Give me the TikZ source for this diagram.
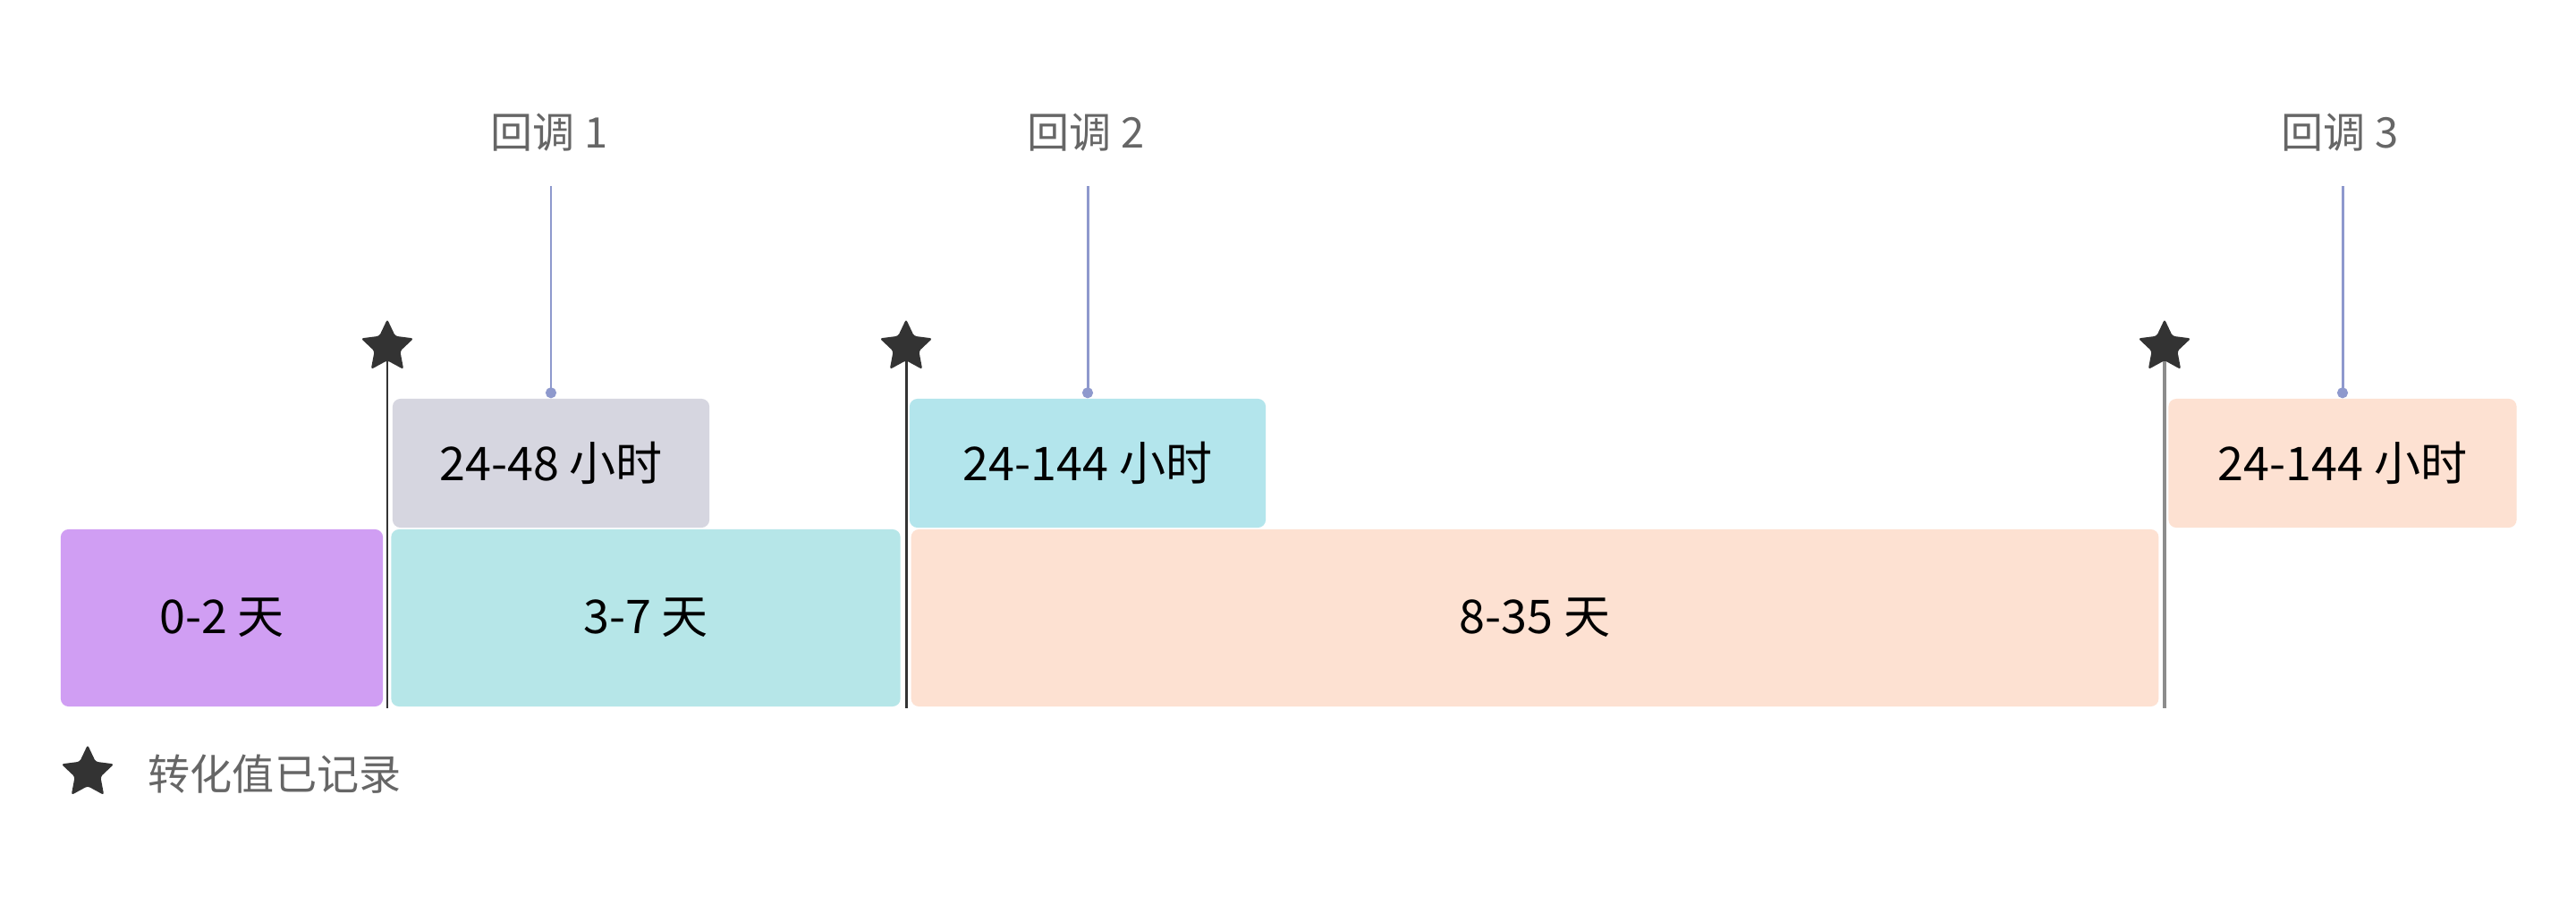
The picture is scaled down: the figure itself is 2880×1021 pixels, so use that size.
\documentclass[tikz,border=0pt]{standalone}
\usepackage{fontspec}
\newfontfamily\cjk{Noto Sans CJK SC}
\usetikzlibrary{shapes.geometric,arrows.meta}
\definecolor{dayviolet}{HTML}{D09EF3}
\definecolor{dayteal}{HTML}{B6E6E8}
\definecolor{daypeach}{HTML}{FDE1D2}
\definecolor{hourgray}{HTML}{D6D6E0}
\definecolor{hourteal}{HTML}{B3E5EC}
\definecolor{cbblue}{HTML}{8E99CD}
\definecolor{stardark}{HTML}{333333}
\definecolor{labelgray}{HTML}{666666}
\begin{document}
\begin{tikzpicture}[x=0.01cm, y=-0.01cm,
    every node/.style={font=\cjk},
    daybox/.style={rectangle, rounded corners=2.5pt, inner sep=0pt,
      minimum height=1.98cm, text=black, font=\cjk\fontsize{14.8}{16}\selectfont},
    hourbox/.style={daybox, minimum height=1.44cm},
    cblabel/.style={text=labelgray, font=\cjk\fontsize{13.4}{15}\selectfont},
    cbline/.style={draw=cbblue, line width=0.85pt, -{Circle[length=3.4pt]}},
    conv/.style={star, star points=5, star point ratio=2.05, fill=stardark,
      rounded corners=0.8pt, minimum size=0.62cm, inner sep=0pt},
    convline/.style={draw=stardark, line width=0.85pt},
    convlinegray/.style={draw=gray!90, line width=1.4pt}]
  \fill[white] (0,0) rectangle (2880,1021);
  \useasboundingbox (0,0) rectangle (2880,1021);
  % day ranges
  \node[daybox, fill=dayviolet, minimum width=3.6cm]  (d02)  at (248,691)  {0-2 天};
  \node[daybox, fill=dayteal, minimum width=5.69cm]   (d37)  at (722,691)  {3-7 天};
  \node[daybox, fill=daypeach, minimum width=13.94cm] (d835) at (1716,691) {8-35 天};
  % hour windows
  \node[hourbox, fill=hourgray, minimum width=3.54cm]  (h1) at (616,518)  {24-48 小时};
  \node[hourbox, fill=hourteal, minimum width=3.98cm]  (h2) at (1216,518) {24-144 小时};
  \node[hourbox, fill=daypeach, minimum width=3.89cm]  (h3) at (2619,518) {24-144 小时};
  % callbacks
  \draw
    (614,148) node[cblabel] (l1) {回调 1}
    (1214,148) node[cblabel] (l2) {回调 2}
    (2616,148) node[cblabel] (l3) {回调 3};
  \coordinate (t1) at (616,208);
  \coordinate (t2) at (1216,208);
  \coordinate (t3) at (2619,208);
  % conversions
  \node[conv] (s1) at (433,388) {};
  \node[conv] (s2) at (1013,388) {};
  \node[conv] (s3) at (2420,388) {};
  \coordinate (b1) at (433,792);
  \coordinate (b2) at (1013,792);
  \coordinate (b3) at (2420,792);
  \begin{scope}[-]
    \draw[convline] (s1) to (b1);
    \draw[convline] (s2) to (b2);
    \draw[convlinegray] (s3) to (b3);
    \draw[cbline] (t1) to (h1.north);
    \draw[cbline] (t2) to (h2.north);
    \draw[cbline] (t3) to (h3.north);
  \end{scope}
  % legend
  \node[conv] (lg) at (98,864) {};
  \node[cblabel, anchor=west, inner sep=0pt] (lgtext) at (165,866) {转化值已记录};
\end{tikzpicture}
\end{document}
